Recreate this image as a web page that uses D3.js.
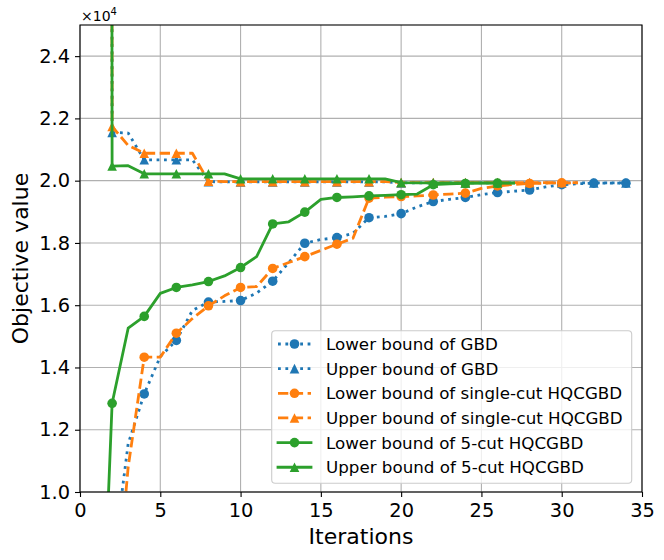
<!DOCTYPE html>
<html>
<head>
<meta charset="utf-8">
<script src="https://cdn.jsdelivr.net/npm/d3@7"></script>
<style>
  body { margin: 0; background: #fff; }
  svg { font-family: "DejaVu Sans", sans-serif; }
</style>
</head>
<body>
<svg id="chart" width="664" height="560"></svg>
<script>
  'use strict';
  // values are in units of 1e4 (offset text "x10^4")
  var iterations = [1, 2, 3, 4, 5, 6, 7, 8, 9, 10, 11, 12, 13, 14, 15, 16, 17,
    18, 19, 20, 21, 22, 23, 24, 25, 26, 27, 28, 29, 30, 31, 32, 33, 34];

  var gbdLower = [0.2, 0.75, 1.155, 1.315, 1.435, 1.487, 1.583, 1.610, 1.612, 1.615,
    1.639, 1.677, 1.737, 1.799, 1.811, 1.817, 1.831, 1.881, 1.885, 1.894, 1.916,
    1.933, 1.940, 1.946, 1.955, 1.962, 1.966, 1.970, 1.980, 1.987, 1.990, 1.992,
    1.992, 1.992];
  var gbdUpper = [50, 2.155, 2.153, 2.067, 2.067, 2.067, 2.067, 1.997, 1.996, 1.996,
    1.996, 1.996, 1.996, 1.996, 1.996, 1.996, 1.996, 1.996, 1.996, 1.993, 1.993,
    1.993, 1.993, 1.993, 1.993, 1.993, 1.993, 1.993, 1.993, 1.993, 1.993, 1.993,
    1.993, 1.993];
  var singleLower = [0.2, 0.5, 1.08, 1.433, 1.433, 1.510, 1.557, 1.598, 1.630, 1.657,
    1.660, 1.718, 1.737, 1.756, 1.776, 1.796, 1.815, 1.944, 1.947, 1.949, 1.951,
    1.954, 1.957, 1.960, 1.975, 1.983, 1.988, 1.991, 1.992, 1.993, 1.993];
  var singleUpper = [50, 2.174, 2.113, 2.088, 2.088, 2.088, 2.088, 1.998, 1.997, 1.997,
    1.997, 1.997, 1.997, 1.997, 1.997, 1.997, 1.997, 1.997, 1.997, 1.994, 1.994,
    1.994, 1.994, 1.994, 1.994, 1.994, 1.994, 1.994, 1.994, 1.994, 1.994];
  var fiveLower = [0.0, 1.285, 1.526, 1.564, 1.638, 1.657, 1.665, 1.676, 1.694, 1.721,
    1.756, 1.861, 1.868, 1.899, 1.940, 1.946, 1.948, 1.951, 1.953, 1.955, 1.957,
    1.987, 1.990, 1.991, 1.992, 1.992, 1.992];
  var fiveUpper = [50, 2.047, 2.048, 2.022, 2.022, 2.022, 2.022, 2.022, 2.022, 2.006,
    2.006, 2.006, 2.006, 2.006, 2.006, 2.006, 2.006, 2.006, 2.006, 1.994, 1.993,
    1.993, 1.993, 1.993, 1.993, 1.993, 1.993];

  var seriesNames = ['Lower bound of GBD', 'Upper bound of GBD',
    'Lower bound of single-cut HQCGBD', 'Upper bound of single-cut HQCGBD',
    'Lower bound of 5-cut HQCGBD', 'Upper bound of 5-cut HQCGBD'];
  var seriesValues = [gbdLower, gbdUpper, singleLower, singleUpper, fiveLower, fiveUpper];

  var xTicks = [0, 5, 10, 15, 20, 25, 30, 35];
  var yTicks = [1.0, 1.2, 1.4, 1.6, 1.8, 2.0, 2.2, 2.4];

  var blue = '#1f77b4', orange = '#ff7f0e', green = '#2ca02c';
  var styles = [
    { color: blue, dash: '2.8,4.6', marker: 'circle' },
    { color: blue, dash: '2.8,4.6', marker: 'triangle' },
    { color: orange, dash: '10.3,4.5', marker: 'circle' },
    { color: orange, dash: '10.3,4.5', marker: 'triangle' },
    { color: green, dash: null, marker: 'circle' },
    { color: green, dash: null, marker: 'triangle' }
  ];

  var margin = { left: 80, right: 22, top: 25, bottom: 68 };
  var W = 664, H = 560;
  var svg = d3.select('#chart');

  var x = d3.scaleLinear().domain([0, 35]).range([margin.left, W - margin.right]);
  var y = d3.scaleLinear().domain([1.0, 2.5]).range([H - margin.bottom, margin.top]);

  var lw = 2.8, ms = 4.8;
  var tickFont = 19.4;

  svg.append('defs').append('clipPath').attr('id', 'plotClip')
    .append('rect')
    .attr('x', x(0)).attr('y', y(2.5))
    .attr('width', x(35) - x(0)).attr('height', y(1.0) - y(2.5));

  // grid
  var grid = svg.append('g').attr('class', 'grid');
  grid.selectAll('.gx').data(xTicks).enter().append('line')
    .attr('x1', function (d) { return x(d); })
    .attr('x2', function (d) { return x(d); })
    .attr('y1', y(1.0)).attr('y2', y(2.5))
    .style('stroke', '#b0b0b0').style('stroke-width', 1.1);
  grid.selectAll('.gy').data(yTicks).enter().append('line')
    .attr('y1', function (d) { return y(d); })
    .attr('y2', function (d) { return y(d); })
    .attr('x1', x(0)).attr('x2', x(35))
    .style('stroke', '#b0b0b0').style('stroke-width', 1.1);

  var trianglePath = function (cx, cy, r) {
    return 'M' + cx + ',' + (cy - r) + 'L' + (cx - r) + ',' + (cy + r) +
      'L' + (cx + r) + ',' + (cy + r) + 'Z';
  };

  var drawMarker = function (g, kind, cx, cy, color) {
    if (kind === 'circle') {
      g.append('circle').attr('cx', cx).attr('cy', cy).attr('r', ms).attr('fill', color);
    } else {
      g.append('path').attr('d', trianglePath(cx, cy, ms)).attr('fill', color);
    }
  };

  var line = d3.line()
    .x(function (d) { return x(d.it); })
    .y(function (d) { return y(d.v); });

  var plot = svg.append('g').attr('clip-path', 'url(#plotClip)');

  seriesValues.forEach(function (vals, k) {
    var st = styles[k];
    var pts = vals.map(function (v, i) { return { it: iterations[i], v: v }; });
    var g = plot.append('g').attr('class', 'series');
    g.append('path')
      .datum(pts)
      .attr('d', line)
      .attr('fill', 'none')
      .attr('stroke', st.color)
      .attr('stroke-width', lw)
      .attr('stroke-linejoin', 'round')
      .attr('stroke-linecap', st.dash ? 'butt' : 'square')
      .attr('stroke-dasharray', st.dash);
    // markers every other iteration, starting at the second one
    pts.forEach(function (p, i) {
      if (i % 2 === 1) drawMarker(g, st.marker, x(p.it), y(p.v), st.color);
    });
  });

  // axes
  var xAxis = d3.axisBottom(x).tickValues(xTicks).tickSize(5).tickPadding(6)
    .tickFormat(d3.format('d'));
  var yAxis = d3.axisLeft(y).tickValues(yTicks).tickSize(5).tickPadding(5)
    .tickFormat(d3.format('.1f'));

  var gx = svg.append('g').attr('transform', 'translate(0,' + y(1.0) + ')').call(xAxis);
  var gy = svg.append('g').attr('transform', 'translate(' + x(0) + ',0)').call(yAxis);
  [gx, gy].forEach(function (g) {
    g.select('.domain').remove();
    g.selectAll('line').style('stroke', '#000').style('stroke-width', 1.1);
    g.selectAll('text').style('font-size', tickFont + 'px').style('fill', '#000')
      .style('font-family', '"DejaVu Sans", sans-serif');
  });

  // frame
  svg.append('rect')
    .attr('x', x(0)).attr('y', y(2.5))
    .attr('width', x(35) - x(0)).attr('height', y(1.0) - y(2.5))
    .attr('fill', 'none').attr('stroke', '#000').attr('stroke-width', 1.1);

  // offset text
  var off = svg.append('text').attr('x', x(0) + 1).attr('y', y(2.5) - 4.5)
    .style('font-size', '14px').text('\u00d710');
  off.append('tspan').attr('dy', -5.5).style('font-size', '10px').text('4');

  svg.append('text')
    .attr('x', (x(0) + x(35)) / 2).attr('y', 544)
    .attr('text-anchor', 'middle').style('font-size', '22px')
    .text('Iterations');
  svg.append('text')
    .attr('transform', 'translate(28,' + ((y(1.0) + y(2.5)) / 2) + ') rotate(-90)')
    .attr('text-anchor', 'middle').style('font-size', '22px')
    .text('Objective value');

  // legend
  var legend = svg.append('g').attr('class', 'legend');
  legend.append('rect')
    .attr('x', 271.7).attr('y', 330.7).attr('width', 360).attr('height', 152.6)
    .attr('rx', 3.5)
    .attr('fill', 'rgba(255,255,255,0.8)')
    .attr('stroke', '#cccccc').attr('stroke-width', 1.1);
  seriesNames.forEach(function (name, k) {
    var st = styles[k];
    var cy = 344 + k * 24.65;
    var row = legend.append('g');
    row.append('line')
      .attr('x1', 278).attr('x2', 311).attr('y1', cy).attr('y2', cy)
      .attr('stroke', st.color).attr('stroke-width', lw)
      .attr('stroke-dasharray', st.dash)
      .attr('stroke-linecap', st.dash ? 'butt' : 'square');
    drawMarker(row, st.marker, 294.5, cy, st.color);
    row.append('text').attr('x', 326).attr('y', cy + 6)
      .style('font-size', '16.7px').text(name);
  });
</script>
</body>
</html>
